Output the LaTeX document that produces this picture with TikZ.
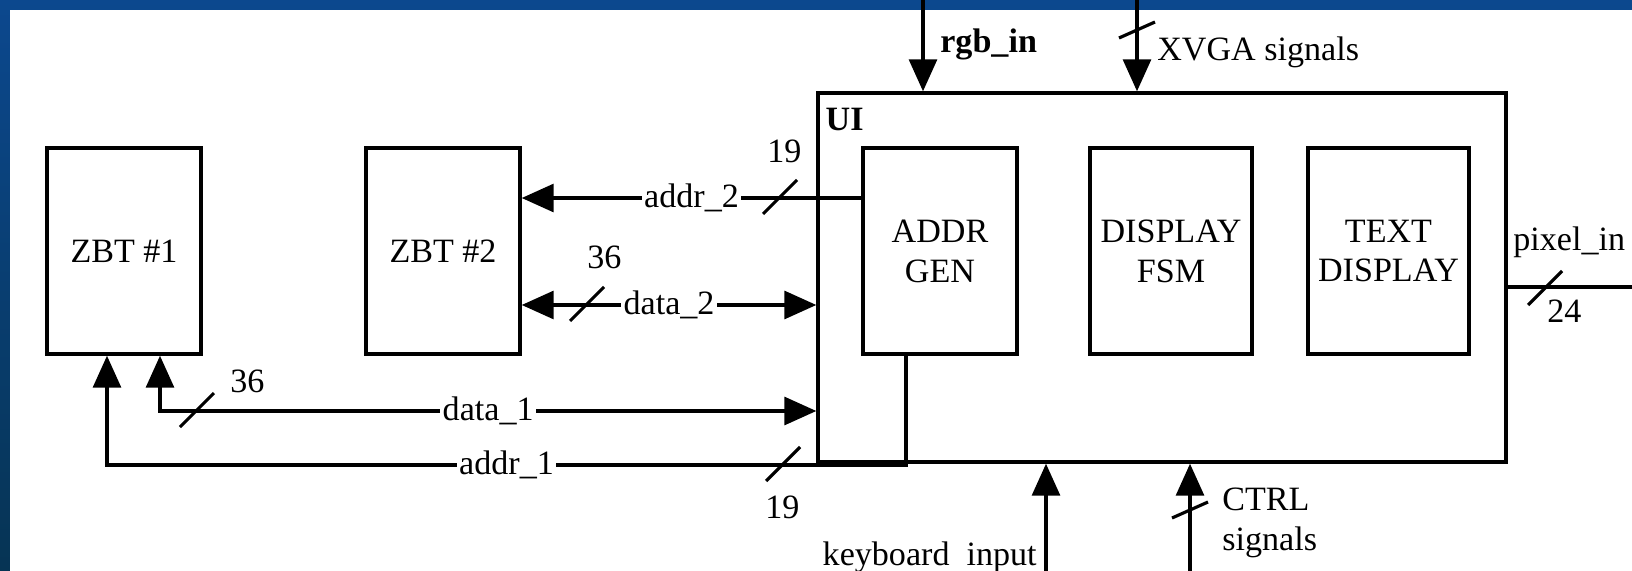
\documentclass[tikz,border=0pt]{standalone}
\usepackage{fontspec}
\setmainfont{Liberation Serif}
\usetikzlibrary{arrows.meta}

\definecolor{slideblue}{RGB}{12,72,142}
\definecolor{slidedark}{RGB}{6,52,84}
\newcommand{\figfont}{\fontsize{19.4}{22.7}\selectfont}
\newcommand{\busmark}[1]{\draw[busline] (#1) ++(-17,17) -- ++(34,-34);}
\newcommand{\busmarkv}[1]{\draw[busline] (#1) ++(-18,8) -- ++(36,-16);}

\begin{document}
\begin{tikzpicture}[
		x=0.02cm, y=-0.02cm,
		every node/.style={inner sep=0pt, font=\figfont},
		block/.style={draw, line width=2pt, minimum width=3.08cm, minimum height=4.12cm, align=center},
		wire/.style={line width=1.8pt},
		busline/.style={line width=1.8pt},
		lbl/.style={fill=white, inner xsep=1.5pt, inner ysep=1pt},
		>={Triangle[length=0.64cm, width=0.56cm]}
	]
  \useasboundingbox (0,0) rectangle (1632,571);
  \shade[top color=slideblue, bottom color=slidedark] (0,0) rectangle (1632,571);
  \fill[white] (10,10) rectangle (1632,571);

  \node (zbt1) [block] at (124,251) {ZBT \#1};
  \node (zbt2) [block] at (443,251) {ZBT \#2};
  \node (ui) [draw, line width=2pt, minimum width=13.76cm, minimum height=7.38cm] at (1162,277.5) {};
  \node (ui_lbl) [anchor=north west, font=\figfont\bfseries] at ([xshift=0.18cm, yshift=-0.34cm]ui.north west) {UI};
  \node (addrgen) [block] at (940,251) {ADDR\\GEN};
  \node (fsm) [block, minimum width=3.24cm] at (1171,251) {DISPLAY\\FSM};
  \node (textdisp) [block, minimum width=3.22cm] at (1388.5,251) {TEXT\\DISPLAY};

  \coordinate (a2) at ([yshift=1.06cm]zbt2.east);
  \coordinate (d2) at ([yshift=-1.08cm]zbt2.east);
  \coordinate (d1) at (160,411);
  \coordinate (a1) at (107,465);
  \coordinate (rgb_top) at (923,0);
  \coordinate (xvga_top) at (1137,0);
  \coordinate (kbd_bot) at (1046,571);
  \coordinate (ctrl_bot) at (1190,571);
  \coordinate (pix_out) at (1632,287);

  \draw[wire, <-] (a2) -- node[lbl] {addr\_2} (a2 -| addrgen.west);
  \draw[wire, <->] (d2) -- node[lbl] {data\_2} (d2 -| ui.west);
  \draw[wire, <->] (zbt1.south -| d1) |- node[lbl, pos=0.75] {data\_1} (ui.west |- d1);
  \draw[wire, ->] ([xshift=-0.68cm]addrgen.south) |- node[lbl, pos=0.75] {addr\_1} (a1) -- (zbt1.south -| a1);
  \draw[wire, ->] (rgb_top) -- (rgb_top |- ui.north);
  \draw[wire, ->] (xvga_top) -- (xvga_top |- ui.north);
  \draw[wire, ->] (kbd_bot) -- (kbd_bot |- ui.south);
  \draw[wire, ->] (ctrl_bot) -- (ctrl_bot |- ui.south);
  \draw[wire] (ui.east |- pix_out) -- (pix_out);

  \busmark{780,197}
  \busmark{587,304}
  \busmark{197,410}
  \busmark{783,464}
  \busmark{1545,288}
  \busmarkv{1137,30}
  \busmarkv{1190,510}

  \node (w_a2) [anchor=base west] at (767,162) {19};
  \node (w_d2) [anchor=base west] at (587,268) {36};
  \node (w_d1) [anchor=base west] at (230,392) {36};
  \node (w_a1) [anchor=base west] at (765,518) {19};
  \node (w_pix) [anchor=base west] at (1547,322) {24};

  \node (rgb_lbl) [anchor=base west, font=\figfont\bfseries] at (940,53) {rgb\_in};
  \node (xvga_lbl) [anchor=base west] at (1157,61) {XVGA signals};
  \node (pix_lbl) [anchor=base west] at (1513,250) {pixel\_in};
  \node (kbd_lbl) [anchor=base east] at (1037,565) {keyboard\ \ input};
  \node (ctrl_lbl) [anchor=north west, align=left] at (1222,488) {CTRL\\signals};
\end{tikzpicture}
\end{document}
